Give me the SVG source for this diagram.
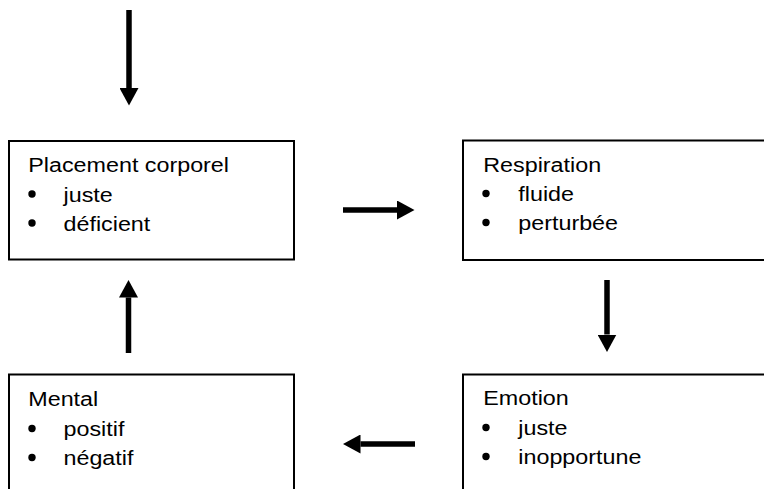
<svg xmlns="http://www.w3.org/2000/svg" width="764" height="489" viewBox="0 0 764 489">
  <style>
    .box { fill: #ffffff; stroke: #000000; stroke-width: 2; }
    .t { font-family: "Liberation Sans", Arial, Helvetica, sans-serif; font-size: 21px; fill: #000000; }
    .bul { fill: #000000; }
    .conn { stroke: #000000; stroke-width: 5.5; fill: none; }
  </style>
  <defs>
    <marker id="ah" markerUnits="userSpaceOnUse" markerWidth="18" markerHeight="19" refX="0" refY="9.5" orient="auto" viewBox="0 0 18 19">
      <path d="M0,0 L17.5,9.5 L0,19 Z" fill="#000000"/>
    </marker>
  </defs>
  <rect width="764" height="489" fill="#ffffff"/>

  <g id="connectors">
    <line class="conn" x1="129" y1="10" x2="129" y2="88" marker-end="url(#ah)"/>
    <line class="conn" x1="343" y1="210" x2="397" y2="210" marker-end="url(#ah)"/>
    <line class="conn" x1="607" y1="280" x2="607" y2="334.5" marker-end="url(#ah)"/>
    <line class="conn" x1="415" y1="444" x2="360.5" y2="444" marker-end="url(#ah)"/>
    <line class="conn" x1="128.5" y1="353" x2="128.5" y2="297.5" marker-end="url(#ah)"/>
  </g>

  <g id="placement">
    <rect class="box" x="9" y="141" width="285" height="118.5"/>
    <text class="t" transform="translate(28.3,171.5) scale(1.11,1)">Placement corporel</text>
    <circle class="bul" cx="32" cy="194" r="3.7"/>
    <text class="t" transform="translate(63.5,201.5) scale(1.11,1)">juste</text>
    <circle class="bul" cx="32" cy="223" r="3.7"/>
    <text class="t" transform="translate(63.5,230.5) scale(1.11,1)">déficient</text>
  </g>

  <g id="respiration">
    <rect class="box" x="463" y="140.5" width="320" height="119.5"/>
    <text class="t" transform="translate(483.3,172) scale(1.11,1)">Respiration</text>
    <circle class="bul" cx="486" cy="193.5" r="3.7"/>
    <text class="t" transform="translate(518.3,200.7) scale(1.11,1)">fluide</text>
    <circle class="bul" cx="486" cy="222.5" r="3.7"/>
    <text class="t" transform="translate(518.3,230) scale(1.11,1)">perturbée</text>
  </g>

  <g id="mental">
    <rect class="box" x="9" y="374.5" width="285" height="130"/>
    <text class="t" transform="translate(28.3,405.5) scale(1.11,1)">Mental</text>
    <circle class="bul" cx="32" cy="428.5" r="3.7"/>
    <text class="t" transform="translate(63.5,436) scale(1.11,1)">positif</text>
    <circle class="bul" cx="32" cy="457.5" r="3.7"/>
    <text class="t" transform="translate(63.5,465) scale(1.11,1)">négatif</text>
  </g>

  <g id="emotion">
    <rect class="box" x="463" y="374.5" width="320" height="130"/>
    <text class="t" transform="translate(483.3,405) scale(1.11,1)">Emotion</text>
    <circle class="bul" cx="486" cy="427.5" r="3.7"/>
    <text class="t" transform="translate(518.3,435) scale(1.11,1)">juste</text>
    <circle class="bul" cx="486" cy="456.5" r="3.7"/>
    <text class="t" transform="translate(518.3,464) scale(1.11,1)">inopportune</text>
  </g>
</svg>
